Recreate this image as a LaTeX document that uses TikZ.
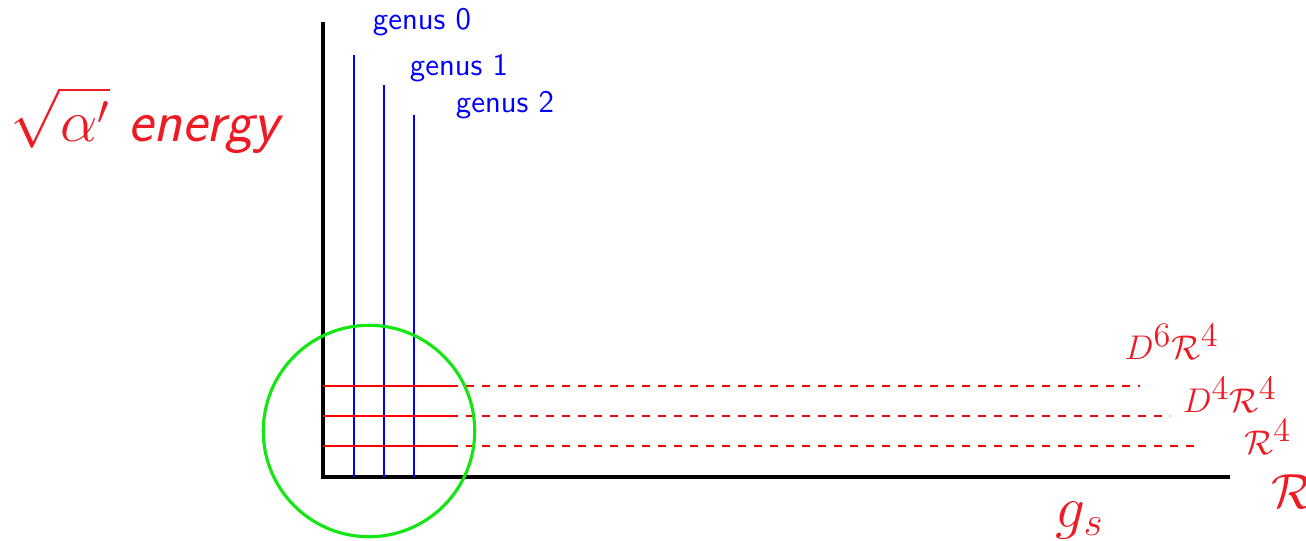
\documentclass[tikz,border=0pt]{standalone}
\usepackage{amsmath}
\definecolor{lblred}{RGB}{237,28,36}
\definecolor{grn}{RGB}{20,230,20}
\begin{document}
\begin{tikzpicture}[x=0.35pt,y=-0.35pt,
  axis/.style={line width=1.3pt,black},
  genusline/.style={line width=0.75pt,blue},
  oploop/.style={line width=0.8pt,red},
  opdash/.style={line width=0.8pt,red,dash pattern=on 2.8pt off 2.8pt},
  genuslbl/.style={blue,font=\fontsize{11}{13}\selectfont\sffamily},
  oplbl/.style={lblred,font=\large}]
\useasboundingbox (0,0) rectangle (1306,540);
% axes
\coordinate (top) at (323,22);
\coordinate (orig) at (323,477);
\coordinate (right) at (1230,477);
\draw[axis] (top) -- (orig) -- (right);
% genus lines
\foreach \x/\y/\n in {354/55/0,384/85/1,414/115/2}{
  \coordinate (g\n t) at (\x,\y);
  \coordinate (g\n b) at (\x,477);
  \draw[genusline] (g\n t) -- (g\n b);
}
% operator lines
\foreach \y/\e/\n in {386/1140/a,416/1170/b,446/1200/c}{
  \coordinate (o\n s) at (323,\y);
  \coordinate (o\n m) at (450,\y);
  \coordinate (o\n e) at (\e,\y);
  \draw[oploop] (o\n s) -- (o\n m);
  \draw[opdash] (o\n m) -- (o\n e);
}
% circle
\node[draw=grn,line width=1.1pt,circle,minimum size=74pt,inner sep=0pt] (circ) at (369,431) {};
% labels
\node[genuslbl] (l0) at (422,22) {genus 0};
\node[genuslbl] (l1) at (459,68) {genus 1};
\node[genuslbl] (l2) at (505,105) {genus 2};
\node[lblred,font=\huge\sffamily\itshape] (en) at (145,120) {$\sqrt{\alpha'}$ energy};
\node[oplbl] (d6) at (1172,342) {$D^{\textstyle 6}\mathcal{R}^{\textstyle 4}$};
\node[oplbl] (d4) at (1230,395) {$D^{\textstyle 4}\mathcal{R}^{\textstyle 4}$};
\node[oplbl] (r4) at (1268,437) {$\mathcal{R}^{\textstyle 4}$};
\node[lblred,font=\LARGE] (r) at (1292,492) {$\mathcal{R}$};
\node[lblred,font=\huge] (gs) at (1080,520) {$g_s$};
\end{tikzpicture}
\end{document}
